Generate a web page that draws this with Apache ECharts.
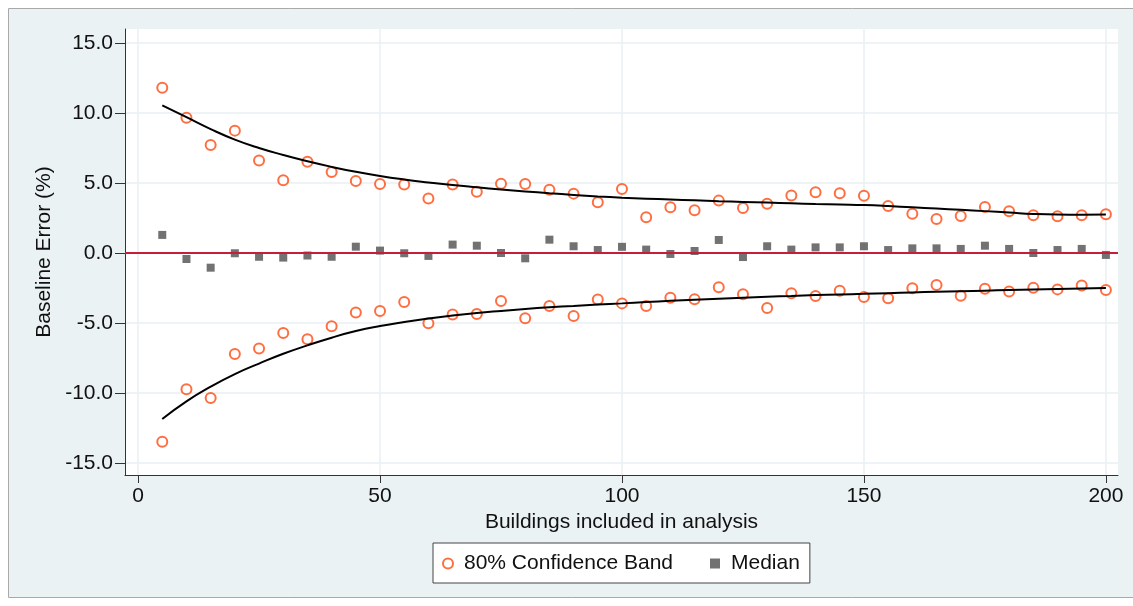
<!DOCTYPE html>
<html>
<head>
<meta charset="utf-8">
<script src="https://cdn.jsdelivr.net/npm/echarts@6/dist/echarts.min.js"></script>
<style>
html,body{margin:0;padding:0;background:#ffffff;}
#chart{width:1133px;height:606px;}
</style>
</head>
<body>
<div id="chart"></div>
<script>
// Buildings included in analysis
const buildings = [5,10,15,20,25,30,35,40,45,50,55,60,65,70,75,80,85,90,95,100,
  105,110,115,120,125,130,135,140,145,150,155,160,165,170,175,180,185,190,195,200];
// 80% confidence band, upper points
const bandUpper = [11.8,9.66,7.71,8.74,6.6,5.19,6.52,5.79,5.14,4.93,4.9,3.9,4.9,4.38,4.95,4.93,4.52,4.24,3.62,4.57,
  2.55,3.26,3.05,3.74,3.21,3.52,4.1,4.33,4.26,4.08,3.36,2.81,2.43,2.64,3.29,2.98,2.69,2.62,2.69,2.76];
// 80% confidence band, lower points
const bandLower = [-13.48,-9.74,-10.36,-7.21,-6.83,-5.71,-6.17,-5.24,-4.26,-4.14,-3.5,-5.02,-4.4,-4.36,-3.43,-4.67,-3.79,-4.5,-3.33,-3.6,
  -3.79,-3.19,-3.31,-2.45,-2.95,-3.93,-2.88,-3.07,-2.69,-3.15,-3.24,-2.52,-2.29,-3.05,-2.55,-2.76,-2.48,-2.6,-2.33,-2.64];
// Median
const median = [1.29,-0.43,-1.05,-0.02,-0.27,-0.33,-0.18,-0.27,0.45,0.17,-0.02,-0.21,0.6,0.52,0.0,-0.38,0.95,0.48,0.21,0.44,
  0.24,-0.07,0.14,0.93,-0.29,0.48,0.24,0.4,0.4,0.48,0.21,0.33,0.33,0.29,0.52,0.29,0.0,0.21,0.29,-0.14];
// Fitted curves
const fitUpper = [10.55,9.7,8.85,8.1,7.5,7.0,6.55,6.15,5.8,5.5,5.25,5.04,4.85,4.69,4.54,4.4,4.27,4.15,4.04,3.95,
  3.88,3.82,3.76,3.7,3.65,3.6,3.55,3.5,3.46,3.42,3.35,3.26,3.17,3.08,2.99,2.89,2.79,2.74,2.73,2.74];
const fitLower = [-11.86,-10.6,-9.55,-8.65,-7.9,-7.2,-6.6,-6.05,-5.58,-5.22,-4.93,-4.68,-4.47,-4.29,-4.14,-4.0,-3.88,-3.78,-3.68,-3.6,
  -3.51,-3.42,-3.34,-3.27,-3.2,-3.13,-3.07,-3.01,-2.96,-2.92,-2.87,-2.82,-2.77,-2.73,-2.69,-2.65,-2.61,-2.57,-2.53,-2.5];
// Tick values
const xTicks = [0,50,100,150,200];
const yTicks = [-15,-10,-5,0,5,10,15];

const pair = arr => buildings.map((b, i) => [b, arr[i]]);
const FONT = '"Liberation Sans", Arial, sans-serif';
const ORANGE = '#ff4a10';
const GRAY = '#4f4f4f';

const chart = echarts.init(document.getElementById('chart'), null, {renderer: 'canvas'});
chart.setOption({
  animation: false,
  backgroundColor: 'transparent',
  textStyle: {fontFamily: FONT},
  graphic: [{
    type: 'rect', z: -100,
    shape: {x: 8.5, y: 8.5, width: 1140, height: 589},
    style: {fill: '#eaf2f3', stroke: '#a9a9a9', lineWidth: 1},
    silent: true
  }],
  grid: {
    left: 125, right: 15, top: 29, bottom: 131,
    show: true, backgroundColor: '#ffffff', borderWidth: 0,
    containLabel: false, outerBoundsMode: 'none'
  },
  xAxis: {
    type: 'value', min: -2.7, max: 202.5,
    name: 'Buildings included in analysis', nameLocation: 'middle', nameGap: 35,
    nameTextStyle: {fontSize: 21, color: '#111', fontFamily: FONT},
    axisLine: {show: true, onZero: false, lineStyle: {color: '#333', width: 1}},
    axisTick: {show: true, length: 8, customValues: xTicks, lineStyle: {color: '#333'}},
    axisLabel: {customValues: xTicks, fontSize: 21, color: '#111', margin: 11, fontFamily: FONT},
    splitLine: {show: true, lineStyle: {color: '#e9f0f3', width: 1.5}}
  },
  yAxis: {
    type: 'value', min: -15.86, max: 16,
    name: 'Baseline Error (%)', nameLocation: 'middle', nameGap: 70,
    nameTextStyle: {fontSize: 21, color: '#111', fontFamily: FONT},
    axisLine: {show: true, onZero: false, lineStyle: {color: '#333', width: 1}},
    axisTick: {show: true, length: 10, customValues: yTicks, lineStyle: {color: '#333'}},
    axisLabel: {customValues: yTicks, fontSize: 21, color: '#111', margin: 12, fontFamily: FONT,
      formatter: v => Number(v).toFixed(1)},
    splitLine: {show: true, lineStyle: {color: '#e9f0f3', width: 1.5}}
  },
  legend: {
    data: ['80% Confidence Band', 'Median'],
    left: 433, top: 543,
    orient: 'horizontal',
    padding: [10, 10, 9, 9],
    itemGap: 37, itemWidth: 10, itemHeight: 10,
    backgroundColor: '#ffffff', borderColor: '#444', borderWidth: 1, borderRadius: 0,
    textStyle: {fontSize: 21, color: '#111', fontFamily: FONT, padding: [0, 0, 0, 6]}
  },
  series: [
    {
      name: 'zero', type: 'line', data: [], z: 1, silent: true,
      markLine: {
        silent: true, symbol: 'none', label: {show: false},
        lineStyle: {color: '#c41e3a', width: 2, type: 'solid'},
        data: [{yAxis: 0}]
      }
    },
    {
      name: '80% Confidence Band', type: 'scatter', data: pair(bandUpper), z: 3,
      symbol: 'emptyCircle', symbolSize: 10,
      itemStyle: {color: ORANGE, borderColor: ORANGE, borderWidth: 2}
    },
    {
      name: '80% Confidence Band', type: 'scatter', data: pair(bandLower), z: 3,
      symbol: 'emptyCircle', symbolSize: 10,
      itemStyle: {color: ORANGE, borderColor: ORANGE, borderWidth: 2}
    },
    {
      name: 'Median', type: 'scatter', data: pair(median), z: 4,
      symbol: 'rect', symbolSize: 8,
      itemStyle: {color: GRAY}
    },
    {
      name: 'fitUpper', type: 'line', data: pair(fitUpper), smooth: true, showSymbol: false, z: 5,
      lineStyle: {color: '#000', width: 2}, itemStyle: {color: '#000'}
    },
    {
      name: 'fitLower', type: 'line', data: pair(fitLower), smooth: true, showSymbol: false, z: 5,
      lineStyle: {color: '#000', width: 2}, itemStyle: {color: '#000'}
    }
  ]
});
</script>
</body>
</html>
